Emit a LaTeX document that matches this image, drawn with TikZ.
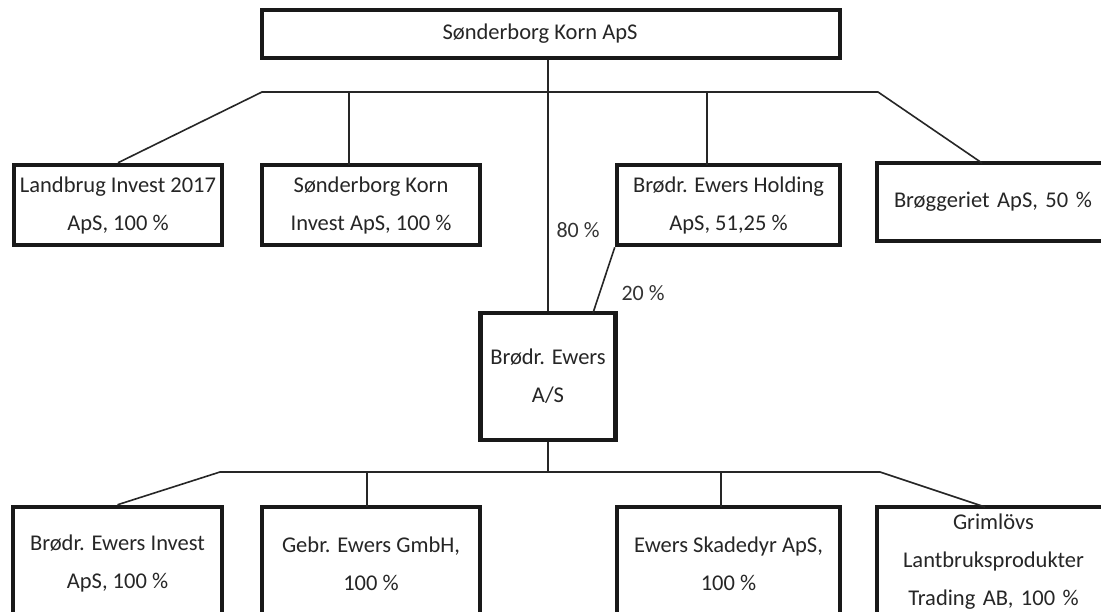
\documentclass[tikz,border=0pt]{standalone}
\usepackage{fontspec}
\setmainfont{Carlito}
\begin{document}
\begin{tikzpicture}[x=1pt,y=-1pt,
  box/.style={draw=black!90, line width=4.5pt, rectangle, inner sep=0pt, align=center,
    text=black!85, font=\fontsize{22.5}{38}\selectfont},
  link/.style={draw=black!85, line width=1.6pt},
  lbl/.style={inner sep=0pt, text=black!80, font=\fontsize{22}{26}\selectfont}
]
\useasboundingbox (0,0) rectangle (1101,611);
\clip (0,0) rectangle (1101,611);
\fill[white] (0,0) rectangle (1101,611);

% top
\node[box, minimum width=578pt, minimum height=48pt] (top) at (551,34) {\hspace*{-11pt}Sønderborg Korn ApS\hspace*{11pt}};

% level 1
\node[box, minimum width=208pt, minimum height=80pt] (land) at (118,205) {Landbrug Invest 2017\\ApS, 100 \%};
\node[box, minimum width=218pt, minimum height=80pt] (ski) at (371,205) {Sønderborg Korn\\Invest ApS, 100 \%};
\node[box, minimum width=223pt, minimum height=80pt] (hold) at (728.5,205) {Brødr. Ewers Holding\\ApS, 51,25 \%};
\node[box, minimum width=233pt, minimum height=78pt, text width=233pt, align=left] (brog) at (993.5,202) {\hspace*{17pt}Brøggeriet ApS, 50 \%};

% middle
\node[box, minimum width=135pt, minimum height=127pt] (as) at (548,376.5) {Brødr. Ewers\\A/S};

% level 2
\node[box, minimum width=209pt, minimum height=113pt] (inv) at (117.5,563.5) {Brødr. Ewers Invest\\ApS, 100 \%};
\node[box, minimum width=218pt, minimum height=113pt] (gebr) at (371,563.5) {Gebr. Ewers GmbH,\\100 \%};
\node[box, minimum width=223pt, minimum height=113pt] (skad) at (728.5,563.5) {Ewers Skadedyr ApS,\\100 \%};
\node[box, minimum width=233pt, minimum height=113pt, text width=215pt, align=center] (grim) at (993.5,563.5) {\raisebox{0pt}[0pt][0pt]{}Grimlövs\\Lantbruksprodukter\\Trading AB, 100 \%\vspace*{4pt}};

% labels
\node[lbl] (p80) at (578,230) {80 \%};
\node[lbl] (p20) at (643,293) {20 \%};

% bus coordinates
\coordinate (b1L) at (262,92);
\coordinate (b1R) at (878,92);
\coordinate (b2L) at (220,472);
\coordinate (b2R) at (880,472);
\coordinate (skiT) at (349,165);
\coordinate (holdT) at (707,165);
\coordinate (brogT) at (982,163);
\coordinate (asT) at (593,313);
\coordinate (gebrT) at (367,507);
\coordinate (skadT) at (721,507);
\coordinate (grimT) at (985,507);

% level 1 connectors
\draw[link] (land.north) -- (b1L) -- (b1R) -- (brogT);
\draw[link] (skiT) -- (skiT |- b1L);
\draw[link] (holdT) -- (holdT |- b1L);
\draw[link] (top.south -| as.north) -- (as.north);
\draw[link] (hold.south west) -- (asT);

% level 2 connectors
\draw[link] (as.south) -- (as.south |- b2L);
\draw[link] (inv.north) -- (b2L) -- (b2R) -- (grimT);
\draw[link] (gebrT) -- (gebrT |- b2L);
\draw[link] (skadT) -- (skadT |- b2L);
\end{tikzpicture}
\end{document}
